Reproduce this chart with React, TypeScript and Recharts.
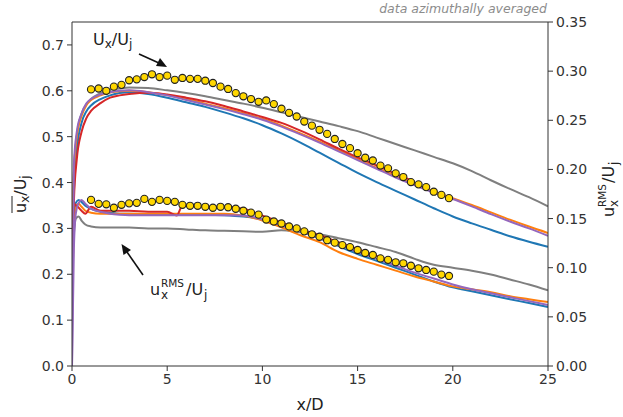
import React from 'react';
import { LineChart, Line, XAxis, YAxis, ReferenceLine } from 'recharts';

// mean velocity (left axis)
const meanX = [0, 0.1, 0.25, 0.5, 0.75, 1, 1.5, 2, 2.5, 3, 4, 5, 6, 7, 8, 9, 10, 11, 12, 13, 14, 15, 16, 17, 18, 19, 20, 21, 22, 23, 24, 25];
const grayMean = [0.22, 0.42, 0.5, 0.55, 0.57, 0.582, 0.595, 0.602, 0.605, 0.607, 0.606, 0.601, 0.595, 0.588, 0.58, 0.572, 0.563, 0.553, 0.543, 0.533, 0.523, 0.512, 0.498, 0.484, 0.47, 0.456, 0.442, 0.425, 0.405, 0.386, 0.368, 0.348];
const blueMean = [0.2, 0.38, 0.47, 0.53, 0.555, 0.568, 0.582, 0.59, 0.595, 0.597, 0.593, 0.585, 0.575, 0.565, 0.553, 0.54, 0.525, 0.507, 0.487, 0.465, 0.443, 0.421, 0.401, 0.382, 0.363, 0.344, 0.326, 0.311, 0.297, 0.283, 0.271, 0.26];
const orangeMean = [0.21, 0.42, 0.5, 0.545, 0.568, 0.58, 0.59, 0.596, 0.599, 0.6, 0.597, 0.591, 0.582, 0.572, 0.562, 0.551, 0.539, 0.524, 0.507, 0.489, 0.47, 0.451, 0.432, 0.414, 0.397, 0.381, 0.366, 0.351, 0.335, 0.319, 0.304, 0.29];
const purpleMean = [0.0, 0.44, 0.51, 0.55, 0.572, 0.582, 0.592, 0.597, 0.6, 0.601, 0.597, 0.59, 0.58, 0.57, 0.56, 0.549, 0.537, 0.522, 0.505, 0.487, 0.468, 0.449, 0.43, 0.411, 0.394, 0.378, 0.364, 0.348, 0.331, 0.315, 0.3, 0.284];
const redMeanX = [0, 0.1, 0.25, 0.5, 0.75, 1, 1.5, 2, 2.5, 3, 4, 5, 6, 7, 8, 9, 10, 11, 12, 13, 14, 15, 16, 17, 18];
const redMean = [0.2, 0.36, 0.45, 0.51, 0.54, 0.556, 0.573, 0.585, 0.59, 0.593, 0.596, 0.592, 0.585, 0.577, 0.567, 0.555, 0.543, 0.53, 0.513, 0.494, 0.474, 0.455, 0.437, 0.419, 0.402];

// rms (right axis)
const rmsX = [0, 0.1, 0.2, 0.35, 0.5, 0.7, 1, 1.5, 2, 2.5, 3, 4, 5, 6, 7, 8, 9, 10, 11, 12, 13, 14, 15, 16, 17, 18, 19, 20, 21, 22, 23, 24, 25];
const grayRms = [0.1, 0.135, 0.15, 0.152, 0.148, 0.144, 0.142, 0.141, 0.141, 0.141, 0.141, 0.14, 0.14, 0.139, 0.138, 0.1375, 0.137, 0.1365, 0.138, 0.136, 0.134, 0.13, 0.126, 0.121, 0.116, 0.109, 0.103, 0.1, 0.097, 0.093, 0.088, 0.083, 0.077];
const blueRms = [0.105, 0.15, 0.166, 0.169, 0.167, 0.163, 0.16, 0.157, 0.156, 0.155, 0.155, 0.1545, 0.154, 0.154, 0.154, 0.1535, 0.152, 0.149, 0.143, 0.137, 0.13, 0.122, 0.114, 0.107, 0.1, 0.093, 0.086, 0.08, 0.076, 0.072, 0.068, 0.064, 0.06];
const orangeRms = [0.06, 0.14, 0.16, 0.165, 0.162, 0.158, 0.156, 0.155, 0.155, 0.155, 0.155, 0.155, 0.155, 0.155, 0.155, 0.155, 0.153, 0.148, 0.141, 0.133, 0.126, 0.116, 0.109, 0.103, 0.097, 0.091, 0.086, 0.081, 0.078, 0.075, 0.071, 0.068, 0.065];
const purpleRms = [0.0, 0.12, 0.155, 0.166, 0.169, 0.165, 0.16, 0.157, 0.155, 0.154, 0.1535, 0.1535, 0.1535, 0.1535, 0.1535, 0.1535, 0.153, 0.149, 0.143, 0.137, 0.13, 0.123, 0.116, 0.109, 0.102, 0.095, 0.089, 0.083, 0.078, 0.074, 0.07, 0.066, 0.062];
const redRmsX = [0, 0.07, 0.3, 0.5, 0.7, 1, 1.5, 2, 3, 4, 5, 5.5, 5.8, 6, 7, 8, 9, 10, 11, 12, 13, 14, 15, 16, 17, 18];
const redRms = [0.05, 0.165, 0.162, 0.158, 0.155, 0.162, 0.158, 0.158, 0.158, 0.157, 0.157, 0.153, 0.163, 0.163, 0.162, 0.162, 0.16, 0.153, 0.146, 0.139, 0.133, 0.126, 0.119, 0.112, 0.106, 0.1];

// experiment markers
const expX = [1.0, 1.4, 1.8, 2.2, 2.6, 3.0, 3.4, 3.8, 4.2, 4.6, 5.0, 5.4, 5.8, 6.2, 6.6, 7.0, 7.4, 7.8, 8.2, 8.6, 9.0, 9.4, 9.8, 10.2, 10.6, 11.0, 11.4, 11.8, 12.2, 12.6, 13.0, 13.4, 13.8, 14.2, 14.6, 15.0, 15.4, 15.8, 16.2, 16.6, 17.0, 17.4, 17.8, 18.2, 18.6, 19.0, 19.4, 19.8];
const expMean = [0.603, 0.605, 0.6, 0.609, 0.613, 0.623, 0.625, 0.63, 0.636, 0.63, 0.633, 0.624, 0.628, 0.626, 0.626, 0.622, 0.617, 0.609, 0.604, 0.595, 0.588, 0.582, 0.576, 0.579, 0.571, 0.561, 0.552, 0.544, 0.533, 0.524, 0.515, 0.506, 0.495, 0.484, 0.475, 0.464, 0.454, 0.448, 0.437, 0.431, 0.42, 0.412, 0.401, 0.396, 0.39, 0.38, 0.373, 0.366];
const expRms = [0.169, 0.165, 0.1645, 0.161, 0.164, 0.1655, 0.166, 0.17, 0.167, 0.169, 0.168, 0.167, 0.164, 0.163, 0.163, 0.162, 0.161, 0.162, 0.1615, 0.16, 0.158, 0.156, 0.154, 0.149, 0.147, 0.145, 0.142, 0.14, 0.137, 0.134, 0.1315, 0.128, 0.1255, 0.123, 0.121, 0.118, 0.115, 0.113, 0.1095, 0.108, 0.1055, 0.1045, 0.102, 0.0994, 0.0977, 0.096, 0.093, 0.0916];

const leftTicks = [0, 0.1, 0.2, 0.3, 0.4, 0.5, 0.6, 0.7];
const rightTicks = [0, 0.05, 0.1, 0.15, 0.2, 0.25, 0.3, 0.35];
const xTicks = [0, 5, 10, 15, 20, 25];

const pts = (xs: number[], ys: number[]) => xs.map((x, i) => ({ x, y: ys[i] }));

const C = {
  gray: '#7f7f7f',
  blue: '#1f77b4',
  orange: '#ff7f0e',
  red: '#d62728',
  purple: '#9467bd',
};

const font = 'DejaVu Sans, Verdana, sans-serif';
const tickStyle = { fontSize: 14, fill: '#333', fontFamily: font };

const Marker = (p: any) =>
  p.cx == null ? null : (
    <circle cx={p.cx} cy={p.cy} r={3.6} fill="#ffd700" stroke="#222" strokeWidth={1.1} />
  );

const series = [
  { id: 'gm', axis: 'left', color: C.gray, data: pts(meanX, grayMean) },
  { id: 'gr', axis: 'right', color: C.gray, data: pts(rmsX, grayRms) },
  { id: 'bm', axis: 'left', color: C.blue, data: pts(meanX, blueMean) },
  { id: 'br', axis: 'right', color: C.blue, data: pts(rmsX, blueRms) },
  { id: 'om', axis: 'left', color: C.orange, data: pts(meanX, orangeMean) },
  { id: 'or', axis: 'right', color: C.orange, data: pts(rmsX, orangeRms) },
  { id: 'rm', axis: 'left', color: C.red, data: pts(redMeanX, redMean) },
  { id: 'rr', axis: 'right', color: C.red, data: pts(redRmsX, redRms) },
  { id: 'pm', axis: 'left', color: C.purple, data: pts(meanX, purpleMean) },
  { id: 'pr', axis: 'right', color: C.purple, data: pts(rmsX, purpleRms) },
];

export default function App() {
  return (
    <div style={{ position: 'absolute', left: 0, top: 0, width: 623, height: 417, background: '#fff' }}>
      <LineChart width={623} height={417} margin={{ top: 22, right: 0, bottom: 0, left: 0 }}>
        <XAxis
          dataKey="x"
          type="number"
          domain={[0, 25]}
          ticks={xTicks}
          allowDataOverflow
          tick={tickStyle}
          tickSize={5}
          tickMargin={3}
          height={51}
          stroke="#333"
        />
        <YAxis
          yAxisId="left"
          dataKey="y"
          type="number"
          domain={[0, 0.75]}
          ticks={leftTicks}
          tickFormatter={(v: number) => v.toFixed(1)}
          tick={tickStyle}
          tickSize={5}
          tickMargin={3}
          width={72}
          stroke="#333"
        />
        <YAxis
          yAxisId="right"
          orientation="right"
          dataKey="y"
          type="number"
          domain={[0, 0.35]}
          ticks={rightTicks}
          tickFormatter={(v: number) => v.toFixed(2)}
          tick={tickStyle}
          tickSize={5}
          tickMargin={3}
          width={75}
          stroke="#333"
        />
        <ReferenceLine yAxisId="left" y={0.75} stroke="#333" />
        {series.map((s) => (
          <Line
            key={s.id}
            yAxisId={s.axis}
            data={s.data}
            dataKey="y"
            type="monotone"
            stroke={s.color}
            strokeWidth={2}
            dot={false}
            isAnimationActive={false}
          />
        ))}
        <Line
          yAxisId="left"
          data={pts(expX, expMean)}
          dataKey="y"
          stroke="none"
          dot={<Marker />}
          isAnimationActive={false}
        />
        <Line
          yAxisId="right"
          data={pts(expX, expRms)}
          dataKey="y"
          stroke="none"
          dot={<Marker />}
          isAnimationActive={false}
        />
      </LineChart>

      <svg width={623} height={417} style={{ position: 'absolute', left: 0, top: 0, pointerEvents: 'none' }} fontFamily={font}>
        <text x={547} y={13} textAnchor="end" fontSize={12.5} fontStyle="italic" fill="#8c8c8c">
          data azimuthally averaged
        </text>

        {/* Ux/Uj label + arrow */}
        <text x={93} y={45} fontSize={16} fill="#222">
          U<tspan fontSize={12} dy={3}>x</tspan>
          <tspan fontSize={16} dy={-3}>/U</tspan>
          <tspan fontSize={12} dy={3}>j</tspan>
        </text>
        <line x1={139} y1={54} x2={160} y2={63.5} stroke="#111" strokeWidth={1.6} />
        <polygon points="167,67 156,66 160,58" fill="#111" />

        {/* rms label + arrow */}
        <text x={150} y={295} fontSize={16} fill="#222">u</text>
        <text x={161} y={287} fontSize={10.5} fill="#222">RMS</text>
        <text x={161} y={299} fontSize={12} fill="#222">x</text>
        <text x={186} y={295} fontSize={16} fill="#222">/U</text>
        <text x={204} y={299} fontSize={12} fill="#222">j</text>
        <line x1={143} y1={275} x2={127} y2={252} stroke="#111" strokeWidth={1.6} />
        <polygon points="121.5,244 131,250 123.5,255" fill="#111" />

        {/* left axis label */}
        <g transform="translate(21,194) rotate(-90)">
          <text x={-19} y={5} fontSize={16} fill="#222">
            u<tspan fontSize={12} dy={3}>x</tspan>
            <tspan fontSize={16} dy={-3}>/U</tspan>
            <tspan fontSize={12} dy={3}>j</tspan>
          </text>
          <line x1={-19} y1={-9} x2={-2} y2={-9} stroke="#222" strokeWidth={1} />
        </g>

        {/* right axis label */}
        <g transform="translate(609,188) rotate(-90)">
          <text x={-29} y={5} fontSize={16} fill="#222">u</text>
          <text x={-19} y={-3} fontSize={10.5} fill="#222">RMS</text>
          <text x={-19} y={9} fontSize={12} fill="#222">x</text>
          <text x={5} y={5} fontSize={16} fill="#222">/U</text>
          <text x={23} y={9} fontSize={12} fill="#222">j</text>
        </g>

        <text x={310} y={410} textAnchor="middle" fontSize={16} fill="#222">x/D</text>
      </svg>
    </div>
  );
}
